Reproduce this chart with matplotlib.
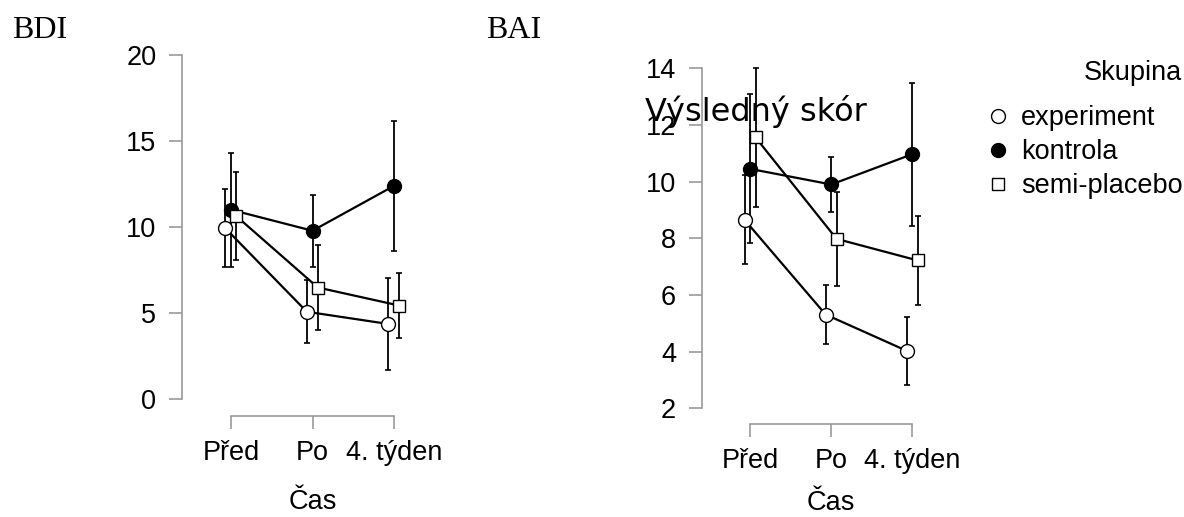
import matplotlib
matplotlib.use("Agg")
import matplotlib.pyplot as plt
from matplotlib.lines import Line2D

# Time points and groups
time_points = ["Před", "Po", "4. týden"]
groups = ["experiment", "kontrola", "semi-placebo"]

# BDI means and error-bar half-widths per group
bdi_experiment = [9.95, 5.09, 4.38]
bdi_experiment_err = [2.28, 1.83, 2.65]
bdi_kontrola = [11.02, 9.80, 12.41]
bdi_kontrola_err = [3.30, 2.08, 3.77]
bdi_semi = [10.65, 6.50, 5.45]
bdi_semi_err = [2.58, 2.47, 1.88]

# BAI means and error-bar half-widths per group
bai_experiment = [8.65, 5.31, 4.03]
bai_experiment_err = [1.57, 1.04, 1.20]
bai_kontrola = [10.45, 9.90, 10.97]
bai_kontrola_err = [2.63, 0.97, 2.52]
bai_semi = [11.56, 7.98, 7.22]
bai_semi_err = [2.44, 1.66, 1.58]

bdi_ticks = [0, 5, 10, 15, 20]
bai_ticks = [2, 4, 6, 8, 10, 12, 14]

W, H = 1184, 517
fig = plt.figure(figsize=(W / 100, H / 100), dpi=100)
fig.patch.set_facecolor("white")

SANS = ["Liberation Sans", "DejaVu Sans"]
SERIF = ["Liberation Serif", "DejaVu Serif"]
GREY = "#9a9a9a"
TICK_FS = 19.5

styles = {
    "experiment": dict(marker="o", mfc="white", mec="black", ms=10, mew=1.0),
    "kontrola": dict(marker="o", mfc="black", mec="black", ms=10, mew=1.0),
    "semi-placebo": dict(marker="s", mfc="white", mec="black", ms=8.5, mew=1.0),
}
dodge = {"experiment": -0.07, "kontrola": 0.0, "semi-placebo": 0.065}


def px_axes(left, top, right, bottom):
    return fig.add_axes([left / W, 1 - bottom / H, (right - left) / W, (bottom - top) / H])


def draw_panel(ax, series, yticks):
    xs = list(range(len(time_points)))
    for name, (vals, errs) in series.items():
        x = [xi + dodge[name] for xi in xs]
        ax.plot(x, vals, color="black", lw=1.6, zorder=2)
        ax.errorbar(x, vals, yerr=errs, fmt="none", ecolor="black",
                    elinewidth=1.3, capsize=2.5, capthick=1.2, zorder=3)
        ax.plot(x, vals, ls="none", zorder=4, **styles[name])
    for s in ("top", "right"):
        ax.spines[s].set_visible(False)
    for s in ("left", "bottom"):
        ax.spines[s].set_color(GREY)
        ax.spines[s].set_linewidth(1.2)
    ax.spines["left"].set_bounds(yticks[0], yticks[-1])
    ax.spines["bottom"].set_bounds(0, len(time_points) - 1)
    ax.set_yticks(yticks)
    ax.set_xticks(xs)
    ax.set_xticklabels(time_points)
    ax.tick_params(axis="both", direction="out", length=9.4, width=1.2,
                   color=GREY, labelcolor="black", labelsize=TICK_FS)
    ax.tick_params(axis="y", pad=9)
    ax.tick_params(axis="x", pad=8)
    for lab in ax.get_xticklabels() + ax.get_yticklabels():
        lab.set_family(SANS)
    ax.set_facecolor("none")


# BDI panel
ax1 = px_axes(182, 45, 420, 416)
ax1.set_xlim((182 - 231) / 81.5, (420 - 231) / 81.5)
ax1.set_ylim((399.3 - 416) / 17.2, (399.3 - 45) / 17.2)
draw_panel(ax1, {
    "experiment": (bdi_experiment, bdi_experiment_err),
    "kontrola": (bdi_kontrola, bdi_kontrola_err),
    "semi-placebo": (bdi_semi, bdi_semi_err),
}, bdi_ticks)

# BAI panel
ax2 = px_axes(701.7, 55, 940, 424)
ax2.set_xlim((701.7 - 750.3) / 81.0, (940 - 750.3) / 81.0)
ax2.set_ylim(2 - (424 - 408.3) / 28.33, 2 + (408.3 - 55) / 28.33)
draw_panel(ax2, {
    "experiment": (bai_experiment, bai_experiment_err),
    "kontrola": (bai_kontrola, bai_kontrola_err),
    "semi-placebo": (bai_semi, bai_semi_err),
}, bai_ticks)

# x-axis titles under the middle time point
ax1.annotate("Čas", xy=(1, 8), xycoords=("data", "figure pixels"),
             ha="center", va="baseline", fontsize=TICK_FS, family=SANS)
ax2.annotate("Čas", xy=(1, 7), xycoords=("data", "figure pixels"),
             ha="center", va="baseline", fontsize=TICK_FS, family=SANS)

# y-axis title of the BAI panel
fig.text(645 / W, 1 - 121 / H, "Výsledný skór", fontsize=23,
         family=["DejaVu Sans"], ha="left", va="baseline")

# Panel titles
fig.text(12 / W, 1 - 38 / H, "BDI", fontsize=23, family=SERIF, va="baseline")
fig.text(486 / W, 1 - 38 / H, "BAI", fontsize=23, family=SERIF, va="baseline")

# Legend: title set as its own text, entries below it
fig.text(1182 / W, 1 - 80 / H, "Skupina", fontsize=19.5, family=SANS,
         ha="right", va="baseline")
handles = [Line2D([], [], ls="none", **styles[g]) for g in groups]
leg = fig.legend(handles, groups, loc="upper right",
                 bbox_to_anchor=(1183 / W, 1 - 105 / H), frameon=False,
                 prop={"family": SANS, "size": 19.5},
                 borderpad=0, borderaxespad=0,
                 handlelength=0.8, handletextpad=0.45, labelspacing=0.3,
                 numpoints=1)

fig.savefig("out.png", dpi=100, facecolor="white")
